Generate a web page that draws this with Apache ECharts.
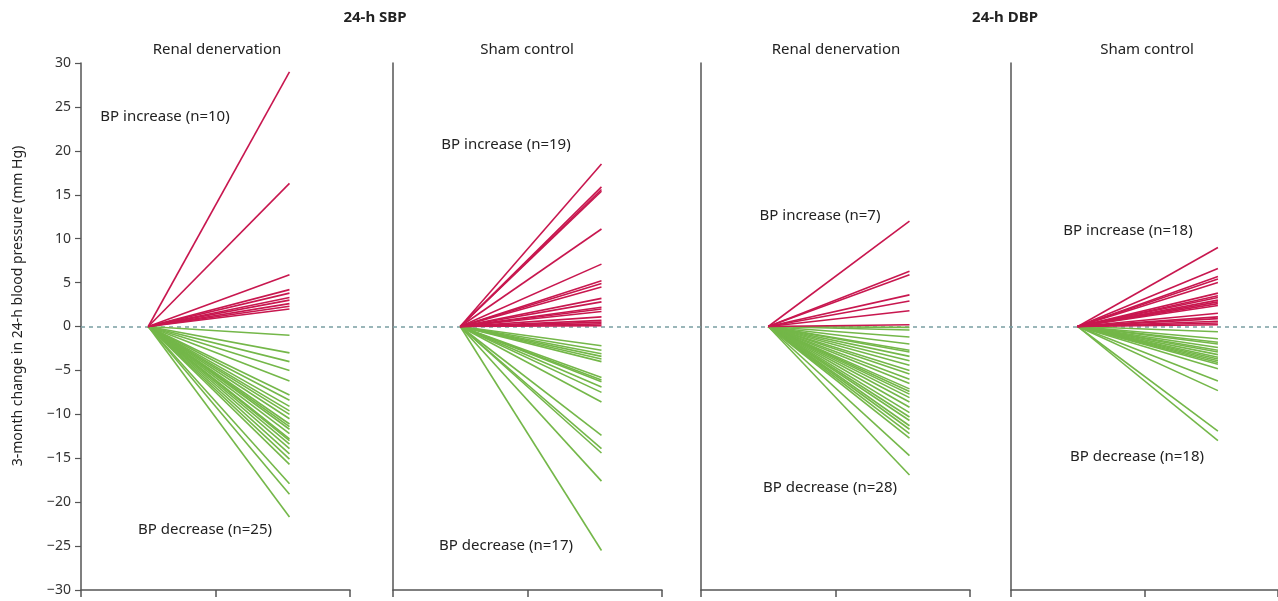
<!DOCTYPE html>
<html>
<head>
<meta charset="utf-8">
<script src="https://cdn.jsdelivr.net/npm/echarts@6/dist/echarts.min.js"></script>
<style>html,body{margin:0;padding:0;background:#fff}#c{width:1278px;height:601px}</style>
</head>
<body>
<div id="c"></div>
<script>
// ---- data (mm Hg change at 3 months) ----
const yTicks = [-30,-25,-20,-15,-10,-5,0,5,10,15,20,25,30];
const panelTitles = ['Renal denervation','Sham control','Renal denervation','Sham control'];
const groupTitles = ['24-h SBP','24-h DBP'];

const sbpRdnIncrease = [29.0, 16.3, 5.9, 4.2, 3.8, 3.3, 3.0, 2.6, 2.3, 2.0];
const sbpRdnDecrease = [-1.0, -3.0, -4.0, -5.0, -6.2, -7.8, -8.4, -9.1, -9.6, -10.0, -10.5, -11.1, -11.4,
  -11.7, -12.2, -12.8, -13.0, -13.4, -13.9, -14.5, -15.1, -15.7, -17.9, -19.1, -21.7];
const sbpShamIncrease = [18.5, 15.9, 15.6, 15.4, 11.1, 7.1, 5.2, 4.9, 4.5, 3.2, 2.8, 2.2, 2.0, 1.7, 1.1, 0.7, 0.5, 0.3, 0.1];
const sbpShamDecrease = [-2.2, -2.7, -3.1, -3.4, -3.7, -4.0, -5.8, -6.1, -6.3, -6.9, -7.5, -8.6, -12.4, -13.9, -14.4, -17.6, -25.5];
const dbpRdnIncrease = [12.0, 6.3, 5.9, 3.6, 2.9, 1.8, 0.2];
const dbpRdnDecrease = [-0.1, -0.4, -1.2, -2.0, -2.7, -2.9, -3.4, -3.9, -4.4, -5.0, -5.4, -6.0, -6.5, -7.1,
  -7.4, -7.7, -8.1, -8.6, -9.2, -9.8, -10.3, -10.7, -11.3, -11.7, -12.2, -12.7, -14.7, -16.9];
const dbpShamIncrease = [9.0, 6.6, 5.7, 5.4, 5.0, 3.8, 3.5, 3.3, 3.0, 2.8, 2.6, 2.4, 1.5, 1.1, 0.9, 0.6, 0.4, 0.2];
const dbpShamDecrease = [-0.6, -1.4, -1.8, -2.0, -2.4, -2.7, -2.9, -3.2, -3.5, -3.7, -3.9, -4.1, -4.3, -4.8, -6.2, -7.3, -11.9, -13.0];

const annotIncrease = ['BP increase (n=10)','BP increase (n=19)','BP increase (n=7)','BP increase (n=18)'];
const annotDecrease = ['BP decrease (n=25)','BP decrease (n=17)','BP decrease (n=28)','BP decrease (n=18)'];

const panels = [
  {inc: sbpRdnIncrease, dec: sbpRdnDecrease},
  {inc: sbpShamIncrease, dec: sbpShamDecrease},
  {inc: dbpRdnIncrease, dec: dbpRdnDecrease},
  {inc: dbpShamIncrease, dec: dbpShamDecrease}
];

// ---- layout / style ----
const FONT = '"Noto Sans", sans-serif';
const RED = '#c8174f', GREEN = '#74b749', AXIS = '#555';
const X0 = 0.5, X1 = 1.55;
const gridLefts = [81, 393, 701, 1011];
const GW = 269, TOP = 63, H = 527;

const grids = [], xAxes = [], yAxes = [], series = [];
gridLefts.forEach((l, i) => {
  grids.push({left: l, top: TOP, width: GW, height: H});
  xAxes.push({gridIndex: i, type: 'value', min: 0, max: 2, interval: 1,
    axisLine: {show: true, onZero: false, lineStyle: {color: AXIS, width: 1.5}},
    axisTick: {show: true, length: 7, lineStyle: {color: AXIS, width: 1.5}},
    axisLabel: {show: false}, splitLine: {show: false}});
  yAxes.push({gridIndex: i, type: 'value', min: -30, max: 30, interval: 5,
    axisLine: {show: true, onZero: false, lineStyle: {color: AXIS, width: 1.5}},
    axisTick: {show: i === 0, length: 6, lineStyle: {color: AXIS, width: 1.2}},
    axisLabel: {show: i === 0, color: '#333', fontSize: 14, fontFamily: FONT, margin: 10,
      formatter: v => v < 0 ? '\u2212' + Math.abs(v) : String(v)},
    splitLine: {show: false}});
});
// full-width grid for the dashed zero reference line
grids.push({left: 81, top: TOP, width: 1197, height: H});
xAxes.push({gridIndex: 4, type: 'value', min: 0, max: 1, show: false});
yAxes.push({gridIndex: 4, type: 'value', min: -30, max: 30, show: false});
series.push({type: 'lines', coordinateSystem: 'cartesian2d', xAxisIndex: 4, yAxisIndex: 4, z: 1,
  silent: true, lineStyle: {color: '#7a9ea3', width: 1.5, type: [4, 4], opacity: 1},
  data: [{coords: [[0, 0], [1, 0]]}]});

panels.forEach((p, i) => {
  series.push({type: 'lines', coordinateSystem: 'cartesian2d', xAxisIndex: i, yAxisIndex: i, z: 2,
    silent: true, lineStyle: {color: GREEN, width: 1.6, opacity: 1},
    data: p.dec.map(v => ({coords: [[X0, 0], [X1, v]]}))});
  series.push({type: 'lines', coordinateSystem: 'cartesian2d', xAxisIndex: i, yAxisIndex: i, z: 3,
    silent: true, lineStyle: {color: RED, width: 1.6, opacity: 1},
    data: p.inc.map(v => ({coords: [[X0, 0], [X1, v]]}))});
});

function txt(x, y, s, size, bold, rot) {
  return {type: 'text', x: x, y: y, rotation: rot || 0,
    style: {text: s, fill: '#222', font: (bold ? 'bold ' : '') + size + 'px ' + FONT,
      textAlign: 'center', textVerticalAlign: 'middle'}};
}
const graphics = [
  txt(375, 18, groupTitles[0], 15, true),
  txt(1005, 18, groupTitles[1], 15, true),
  txt(217, 50, panelTitles[0], 15),
  txt(527, 50, panelTitles[1], 15),
  txt(836, 50, panelTitles[2], 15),
  txt(1147, 50, panelTitles[3], 15),
  txt(165, 117, annotIncrease[0], 15),
  txt(205, 530, annotDecrease[0], 15),
  txt(506, 145, annotIncrease[1], 15),
  txt(506, 546, annotDecrease[1], 15),
  txt(820, 216, annotIncrease[2], 15),
  txt(830, 488, annotDecrease[2], 15),
  txt(1128, 231, annotIncrease[3], 15),
  txt(1137, 457, annotDecrease[3], 15),
  txt(18, 306, '3-month change in 24-h blood pressure (mm Hg)', 14, false, Math.PI / 2)
];

const chart = echarts.init(document.getElementById('c'), null, {renderer: 'canvas'});
chart.setOption({
  animation: false,
  backgroundColor: '#fff',
  grid: grids, xAxis: xAxes, yAxis: yAxes, series: series,
  graphic: graphics
});
</script>
</body>
</html>
